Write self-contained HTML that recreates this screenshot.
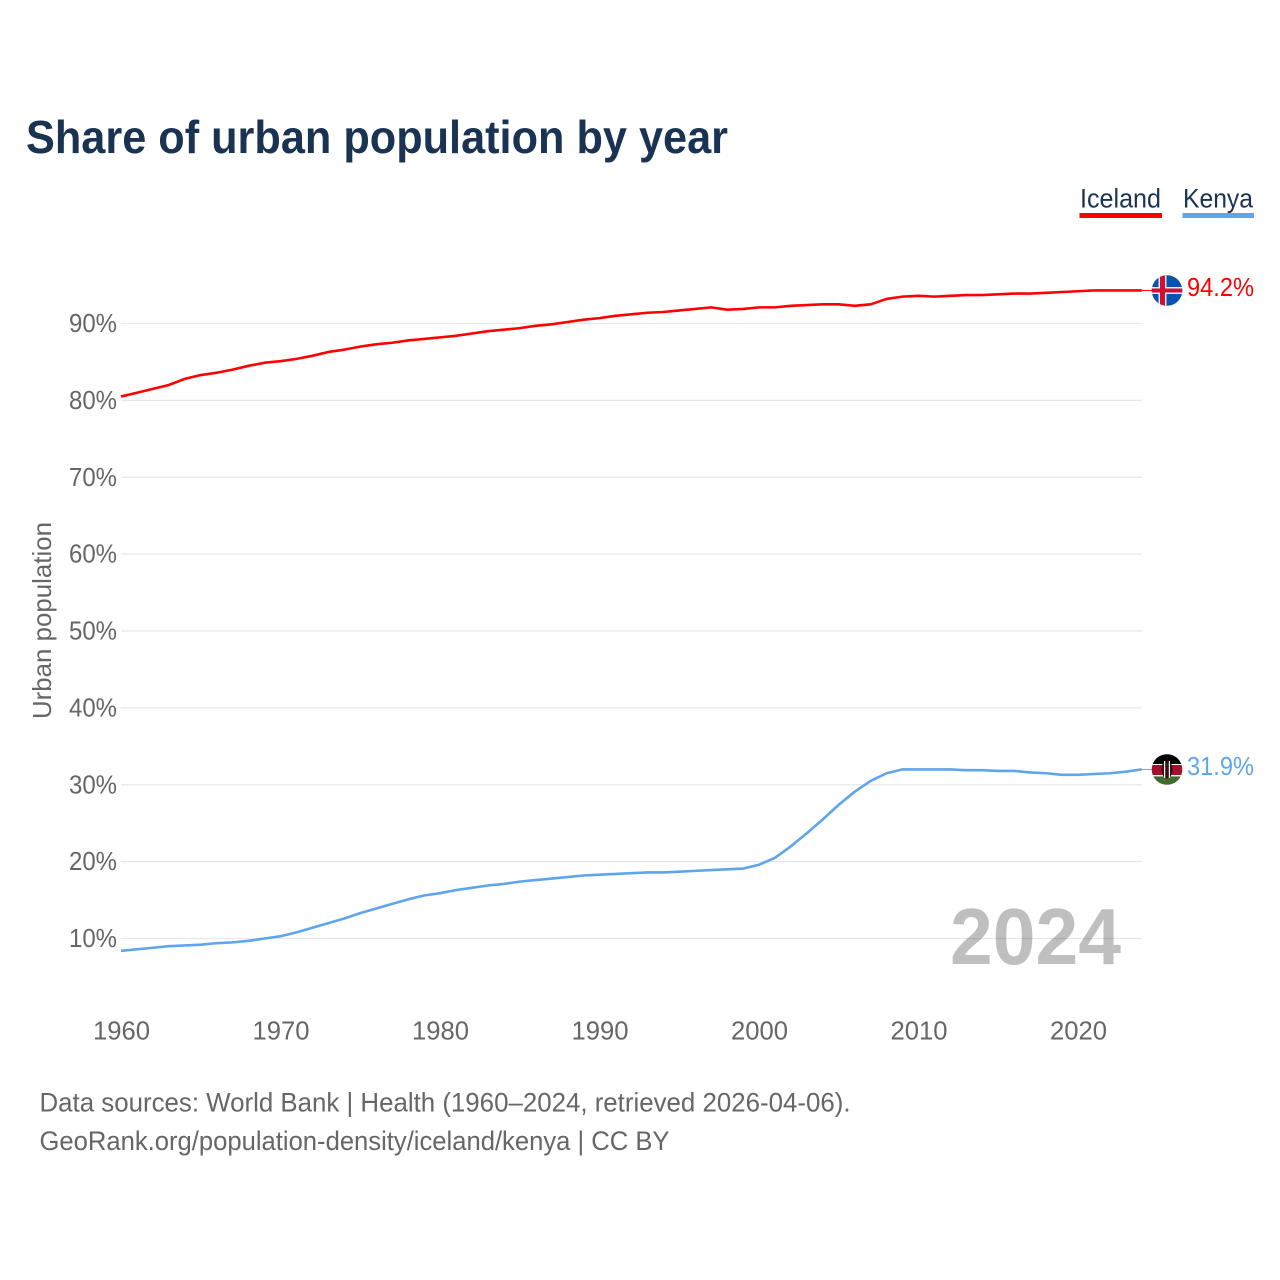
<!DOCTYPE html>
<html lang="en">
<head>
<meta charset="utf-8">
<title>Share of urban population by year</title>
<style>
html,body{margin:0;padding:0;background:#fff;width:1280px;height:1280px;overflow:hidden}
svg{display:block}
text{font-family:"Liberation Sans",sans-serif}
</style>
</head>
<body>
<svg id="chart" width="1280" height="1280" viewBox="0 0 1280 1280" xmlns="http://www.w3.org/2000/svg">
  <defs>
    <clipPath id="clip-iceland"><circle cx="1167" cy="290.5" r="15.3"/></clipPath>
    <clipPath id="clip-kenya"><circle cx="1167" cy="769.5" r="15.3"/></clipPath>
  </defs>
  <rect width="1280" height="1280" fill="#fff"/>
  <text x="26" y="153" font-size="46" font-weight="700" fill="#1a3353" textLength="702" lengthAdjust="spacingAndGlyphs">Share of urban population by year</text>

  <g>
    <g>
      <text x="1080" y="207.5" font-size="27" fill="#1a3353" textLength="81" lengthAdjust="spacingAndGlyphs">Iceland</text>
      <rect x="1079.5" y="213" width="82.5" height="5" fill="#ff0000"/>
    </g>
    <g>
      <text x="1183" y="207.5" font-size="27" fill="#1a3353" textLength="70" lengthAdjust="spacingAndGlyphs">Kenya</text>
      <rect x="1182.5" y="213" width="71.5" height="5" fill="#5fa5ee"/>
    </g>
  </g>

  <g id="grid"></g>
  <g id="y-ticks"></g>
  <g id="x-ticks"></g>
  <text transform="translate(51,620.5) rotate(-90)" text-anchor="middle" font-size="26" fill="#666" textLength="197" lengthAdjust="spacingAndGlyphs">Urban population</text>
  <g id="series"></g>

  <text x="950" y="964" font-size="80" font-weight="700" fill="#000" fill-opacity="0.25" textLength="171" lengthAdjust="spacingAndGlyphs">2024</text>

  <g clip-path="url(#clip-iceland)">
    <rect x="1151" y="275" width="32" height="31" fill="#0a52b0"/>
    <rect x="1151" y="287" width="32" height="7" fill="#e8e8f0"/>
    <rect x="1158.5" y="275" width="8" height="31" fill="#e8e8f0"/>
    <rect x="1151" y="288.5" width="32" height="4" fill="#d01030"/>
    <rect x="1160" y="275" width="5" height="31" fill="#d01030"/>
  </g>
  <text x="1187" y="296" font-size="26" fill="#ff0000" textLength="67" lengthAdjust="spacingAndGlyphs">94.2%</text>

  <g clip-path="url(#clip-kenya)">
    <rect x="1151" y="754" width="32" height="10" fill="#000"/>
    <rect x="1151" y="764" width="32" height="1.2" fill="#fff"/>
    <rect x="1151" y="765" width="32" height="10" fill="#a5102c"/>
    <rect x="1151" y="775" width="32" height="1.4" fill="#fff"/>
    <rect x="1151" y="776.4" width="32" height="9" fill="#3f6b2e"/>
    <ellipse cx="1167" cy="769.5" rx="5.5" ry="9" fill="#3a0c14"/>
    <rect x="1164" y="761" width="1.2" height="17" fill="#fff"/>
    <rect x="1168.8" y="761" width="1.2" height="17" fill="#fff"/>
  </g>
  <text x="1187" y="775" font-size="26" fill="#5fa5ee" textLength="67" lengthAdjust="spacingAndGlyphs">31.9%</text>

  <text x="39.5" y="1111.5" font-size="26.5" fill="#666" textLength="811" lengthAdjust="spacingAndGlyphs">Data sources: World Bank | Health (1960–2024, retrieved 2026-04-06).</text>
  <text x="39.5" y="1150" font-size="26.5" fill="#666" textLength="630" lengthAdjust="spacingAndGlyphs">GeoRank.org/population-density/iceland/kenya | CC BY</text>
</svg>
<script>
const years = [1960,1961,1962,1963,1964,1965,1966,1967,1968,1969,1970,1971,1972,1973,1974,1975,1976,1977,1978,1979,1980,1981,1982,1983,1984,1985,1986,1987,1988,1989,1990,1991,1992,1993,1994,1995,1996,1997,1998,1999,2000,2001,2002,2003,2004,2005,2006,2007,2008,2009,2010,2011,2012,2013,2014,2015,2016,2017,2018,2019,2020,2021,2022,2023,2024];
const iceland = [80.5,81.0,81.5,82.0,82.8,83.3,83.6,84.0,84.5,84.9,85.1,85.4,85.8,86.3,86.6,87.0,87.3,87.5,87.8,88.0,88.2,88.4,88.7,89.0,89.2,89.4,89.7,89.9,90.2,90.5,90.7,91.0,91.2,91.4,91.5,91.7,91.9,92.1,91.8,91.9,92.1,92.1,92.3,92.4,92.5,92.5,92.3,92.5,93.2,93.5,93.6,93.5,93.6,93.7,93.7,93.8,93.9,93.9,94.0,94.1,94.2,94.3,94.3,94.3,94.3];
const kenya = [8.4,8.6,8.8,9.0,9.1,9.2,9.4,9.5,9.7,10.0,10.3,10.8,11.4,12.0,12.6,13.3,13.9,14.5,15.1,15.6,15.9,16.3,16.6,16.9,17.1,17.4,17.6,17.8,18.0,18.2,18.3,18.4,18.5,18.6,18.6,18.7,18.8,18.9,19.0,19.1,19.6,20.5,22.0,23.7,25.5,27.4,29.1,30.5,31.5,32.0,32.0,32.0,32.0,31.9,31.9,31.8,31.8,31.6,31.5,31.3,31.3,31.4,31.5,31.7,32.0];
const yTicks = [10,20,30,40,50,60,70,80,90];
const xTicks = [1960,1970,1980,1990,2000,2010,2020];

const NS = 'http://www.w3.org/2000/svg';
function xScale(year){ return 121 + (year - 1960) * 15.95; }
function yScale(v){ return 1015.4 - v * 7.6875; }
function make(tag, attrs, parent){
  const el = document.createElementNS(NS, tag);
  for (const k in attrs) el.setAttribute(k, attrs[k]);
  parent.appendChild(el);
  return el;
}
const gridG = document.getElementById('grid');
const yG = document.getElementById('y-ticks');
const xG = document.getElementById('x-ticks');
const seriesG = document.getElementById('series');

yTicks.forEach(function(v){
  const line = make('line', {x1:121, x2:1142, y1:yScale(v), y2:yScale(v), stroke:'#e8e8e8', 'stroke-width':1.3}, gridG);
  
  
  const t = make('text', {x:117, y:yScale(v)+8.5, 'text-anchor':'end', 'font-size':25.5, fill:'#666', textLength:48, lengthAdjust:'spacingAndGlyphs'}, yG);
  
  
  t.textContent = v + '%';
});
xTicks.forEach(function(yr){
  const t = make('text', {x:xScale(yr)+0.5, y:1039.5, 'text-anchor':'middle', 'font-size':25.5, fill:'#666', textLength:57, lengthAdjust:'spacingAndGlyphs'}, xG);
  
  
  t.textContent = yr;
});
function pathFor(vals){
  return vals.map(function(v,i){ return (i ? 'L' : 'M') + xScale(years[i]).toFixed(2) + ' ' + yScale(v).toFixed(2); }).join(' ');
}
const lineIceland = make('path', {d:pathFor(iceland), fill:'none', stroke:'#ff0000', 'stroke-width':2.6, 'stroke-linejoin':'round'}, seriesG);


const lineKenya = make('path', {d:pathFor(kenya), fill:'none', stroke:'#5fa5ee', 'stroke-width':2.6, 'stroke-linejoin':'round'}, seriesG);


const connIceland = make('line', {x1:xScale(2024), x2:1152, y1:yScale(iceland[iceland.length-1]), y2:yScale(iceland[iceland.length-1]), stroke:'#ff0000', 'stroke-width':1}, seriesG);


const connKenya = make('line', {x1:xScale(2024), x2:1152, y1:yScale(kenya[kenya.length-1]), y2:yScale(kenya[kenya.length-1]), stroke:'#5fa5ee', 'stroke-width':1}, seriesG);


</script>
</body>
</html>
